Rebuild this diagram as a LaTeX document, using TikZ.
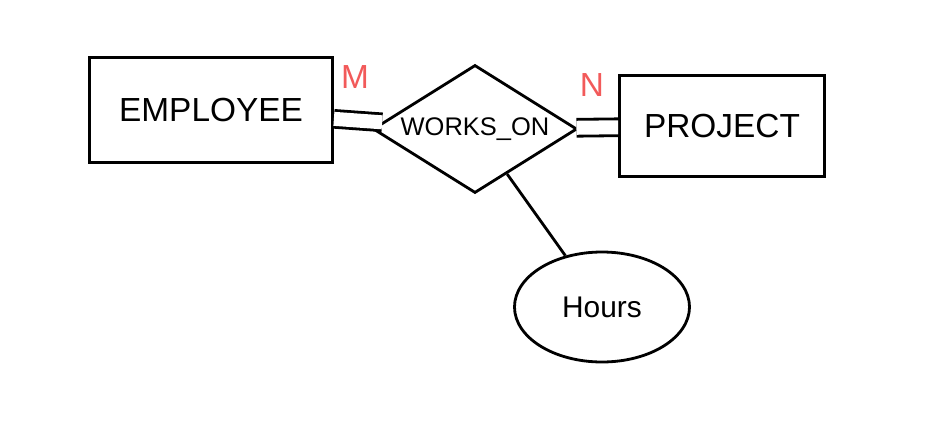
\documentclass[tikz,border=0pt]{standalone}
\usepackage{fontspec}
\setmainfont{Liberation Sans}
\usetikzlibrary{shapes.geometric,positioning}
\definecolor{cardred}{HTML}{F25A5A}

\begin{document}
\begin{tikzpicture}
\tikzstyle{entity}=[draw,line width=1.6pt,rectangle,font=\fontsize{19}{23}\selectfont]
\tikzstyle{relation}=[draw,line width=1.6pt,diamond,aspect=1.6,inner sep=0pt,minimum width=4.08cm,minimum height=2.56cm,font=\fontsize{14.5}{17}\selectfont]
\tikzstyle{attribute}=[draw,line width=1.6pt,ellipse,minimum width=3.5cm,minimum height=2.2cm,font=\fontsize{17}{20}\selectfont]
\tikzstyle{card}=[text=cardred,font=\fontsize{19}{23}\selectfont]
\tikzstyle{total}=[line width=1.6pt,double,double distance=0.28cm]

\useasboundingbox (0,0) rectangle (18.5,-8.48);

%% ========== ENTITIES ==========
\node[entity, minimum width=4.86cm, minimum height=2.1cm] (employee) at (4.22,-2.2) {EMPLOYEE};
\node[entity, minimum width=4.1cm, minimum height=2.02cm] (project) at (14.44,-2.52) {PROJECT};

%% ========== RELATIONSHIP ==========
\node[relation] (workson) at (9.5,-2.58) {WORKS\_ON};

%% ========== ATTRIBUTE ==========
\node[attribute] (hours) at (12.04,-6.14) {Hours};

%% ========== CARDINALITIES ==========
\node[card] (m) at (7.1,-1.54) {M};
\node[card] (n) at (11.84,-1.7) {N};

%% ========== CONNECTIONS ==========
\draw[total] (employee) -- (workson);
\draw[total] (workson) -- (project);
\draw[line width=1.6pt] (workson) -- (hours);

\end{tikzpicture}
\end{document}
